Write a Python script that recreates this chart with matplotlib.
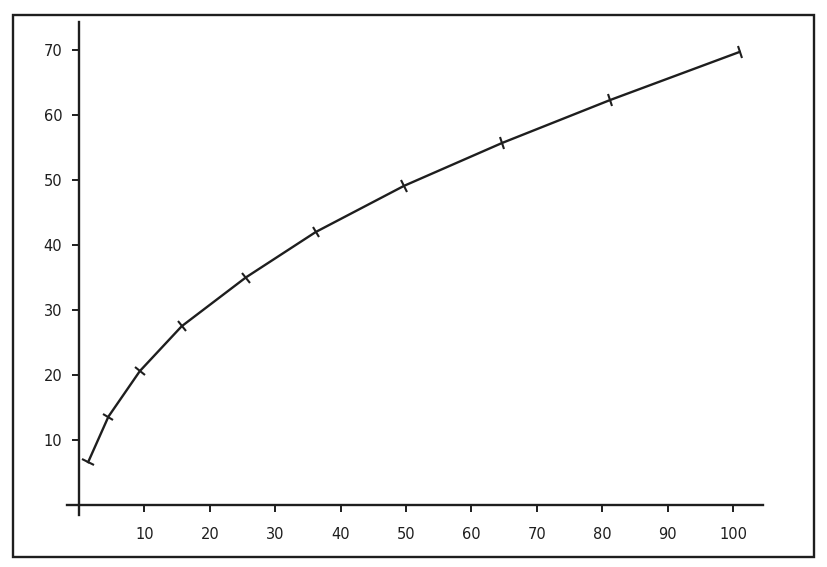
import numpy as np
from matplotlib import pyplot as plt
from matplotlib.markers import MarkerStyle
from matplotlib.transforms import Affine2D
from matplotlib.patches import Rectangle

# values
x_vals = [1.4, 4.5, 9.3, 15.7, 25.5, 36.2, 49.7, 64.7, 81.2, 101.0]
y_vals = [6.6, 13.6, 20.6, 27.5, 35.0, 42.0, 49.1, 55.7, 62.3, 69.7]
x_ticks = [10, 20, 30, 40, 50, 60, 70, 80, 90, 100]
y_ticks = [10, 20, 30, 40, 50, 60, 70]

ink = "#1e1e1e"

fig = plt.figure(figsize=(8.27, 5.67), dpi=100)
W, H = 827, 567
# axes box in pixels: x 67..763, y 22..515
ax = fig.add_axes([67 / W, (H - 515) / H, (763 - 67) / W, (515 - 22) / H])
ax.set_xlim((67 - 79) / 6.54, (763 - 79) / 6.54)
ax.set_ylim((505 - 515) / 6.5, (505 - 22) / 6.5)

for s in ["top", "right"]:
    ax.spines[s].set_visible(False)
ax.spines["left"].set_position(("data", 0))
ax.spines["bottom"].set_position(("data", 0))
for s in ["left", "bottom"]:
    ax.spines[s].set_linewidth(1.7)
    ax.spines[s].set_color(ink)

ax.set_xticks(x_ticks)
ax.set_yticks(y_ticks)
ax.tick_params(axis="x", direction="out", length=5, width=1.4, pad=11,
               colors=ink, labelsize=10.5)
ax.tick_params(axis="y", direction="out", length=5, width=1.4, pad=7,
               colors=ink, labelsize=10.5)

ax.plot(x_vals, y_vals, color=ink, lw=1.7, zorder=3)

# small strokes across the curve at each point
fig.canvas.draw()
pts = ax.transData.transform(np.column_stack([x_vals, y_vals]))
for i in range(len(x_vals)):
    a = pts[max(i - 1, 0)]
    b = pts[min(i + 1, len(x_vals) - 1)]
    ang = np.degrees(np.arctan2(b[1] - a[1], b[0] - a[0]))
    m = MarkerStyle("|", transform=Affine2D().rotate_deg(ang))
    ax.plot(x_vals[i], y_vals[i], marker=m, ms=9, mew=1.5, color=ink, zorder=4)

# outer frame
fig.patches.append(Rectangle((13 / W, (H - 557) / H), (814 - 13) / W, (557 - 15) / H,
                             transform=fig.transFigure, fill=False,
                             lw=1.7, edgecolor=ink))

fig.savefig("out.png", dpi=100)
